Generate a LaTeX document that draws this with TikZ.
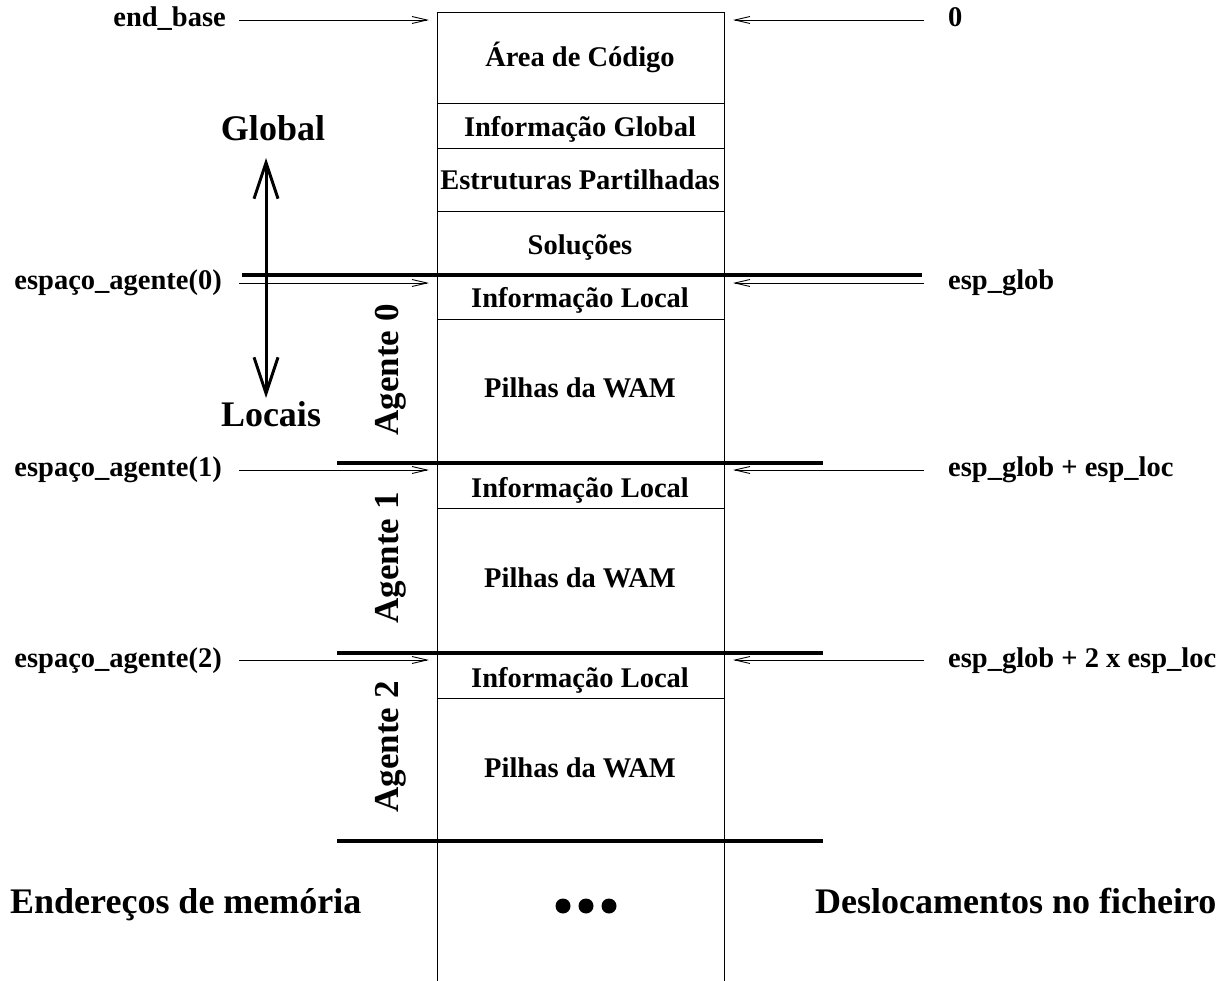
\documentclass[tikz,border=0pt]{standalone}
\usepackage{fontspec}
\setmainfont{Liberation Serif}
\usetikzlibrary{arrows.meta}
\begin{document}
\begin{tikzpicture}[x=1pt,y=-1pt,
  lbl/.style={font=\bfseries\fontsize{28.5}{30}\selectfont, inner sep=0pt, text height=19pt, text depth=5pt},
  big/.style={font=\bfseries\fontsize{36}{40}\selectfont, inner sep=0pt, text height=24pt, text depth=7pt},
  agent/.style={font=\bfseries\fontsize{35}{38}\selectfont, inner sep=0pt, rotate=90, text height=24pt, text depth=7pt},
  cell/.style={line width=1pt},
  sep/.style={line width=3.5pt},
  ptr/.style={line width=0.9pt, -{Straight Barb[length=15pt,width=7pt,line width=0.9pt]}},
  dir/.style={line width=3pt, {Straight Barb[length=36pt,width=24pt]}-{Straight Barb[length=36pt,width=24pt]}},
  dot/.style={circle, fill, inner sep=0pt, minimum size=15pt}
]
\useasboundingbox (0,0) rectangle (1227,981);

% memory column
\draw[cell] (437,981) -- (437,13) -- (724,13) -- (724,981);
\foreach \y in {104,149,212,320,509,698} \draw[cell] (437,\y) -- (724,\y);
\draw[sep] (242,275) -- (922,275);
\foreach \y in {463,653,841} \draw[sep] (337,\y) -- (823,\y);

% contents of the column
\node[lbl] (code)  at (580,60)  {Área de Código};
\node[lbl] (ginfo) at (580,130) {Informação Global};
\node[lbl] (share) at (580,183) {Estruturas Partilhadas};
\node[lbl] (sols)  at (580,248) {Soluções};
\node[lbl] (li0)   at (580,301) {Informação Local};
\node[lbl] (wam0)  at (580,391) {Pilhas da WAM};
\node[lbl] (li1)   at (580,491) {Informação Local};
\node[lbl] (wam1)  at (580,580) {Pilhas da WAM};
\node[lbl] (li2)   at (580,680) {Informação Local};
\node[lbl] (wam2)  at (580,770) {Pilhas da WAM};
\node[dot] (d1) at (563,906) {};
\node[dot] (d2) at (586,906) {};
\node[dot] (d3) at (609,906) {};

% agent labels
\node[agent] (ag0) at (390,370) {Agente 0};
\node[agent] (ag1) at (390,558) {Agente 1};
\node[agent] (ag2) at (390,747) {Agente 2};

% memory addresses (left)
\node[lbl, anchor=east] (eb) at (226,20)  {end\_base};
\node[lbl, anchor=east] (e0) at (222,283) {espaço\_agente(0)};
\node[lbl, anchor=east] (e1) at (222,470) {espaço\_agente(1)};
\node[lbl, anchor=east] (e2) at (222,660) {espaço\_agente(2)};
\coordinate (lb) at (429,20);
\coordinate (l0) at (429,283);
\coordinate (l1) at (429,470);
\coordinate (l2) at (429,660);
\draw[ptr] ([xshift=13pt]eb.east) -- (lb);
\draw[ptr] ([xshift=17pt]e0.east) -- (l0);
\draw[ptr] ([xshift=17pt]e1.east) -- (l1);
\draw[ptr] ([xshift=17pt]e2.east) -- (l2);

% file offsets (right)
\node[lbl, anchor=west] (o0) at (948,20)  {0};
\node[lbl, anchor=west] (o1) at (948,283) {esp\_glob};
\node[lbl, anchor=west] (o2) at (948,470) {esp\_glob + esp\_loc};
\node[lbl, anchor=west] (o3) at (948,660) {esp\_glob + 2 x esp\_loc};
\coordinate (rb) at (733,20);
\coordinate (r0) at (733,283);
\coordinate (r1) at (733,470);
\coordinate (r2) at (733,660);
\draw[ptr] ([xshift=-24pt]o0.west) -- (rb);
\draw[ptr] ([xshift=-24pt]o1.west) -- (r0);
\draw[ptr] ([xshift=-24pt]o2.west) -- (r1);
\draw[ptr] ([xshift=-24pt]o3.west) -- (r2);

% global / local direction
\node[big] (glob) at (273,132) {Global};
\node[big] (loc)  at (271,418) {Locais};
\coordinate (gtop) at (266,158);
\coordinate (gbot) at (266,398);
\draw[dir] (gtop) -- (gbot);

% captions
\node[big, anchor=west] (addr) at (10,905)  {Endereços de memória};
\node[big, anchor=west] (offs) at (815,905) {Deslocamentos no ficheiro};
\end{tikzpicture}
\end{document}
